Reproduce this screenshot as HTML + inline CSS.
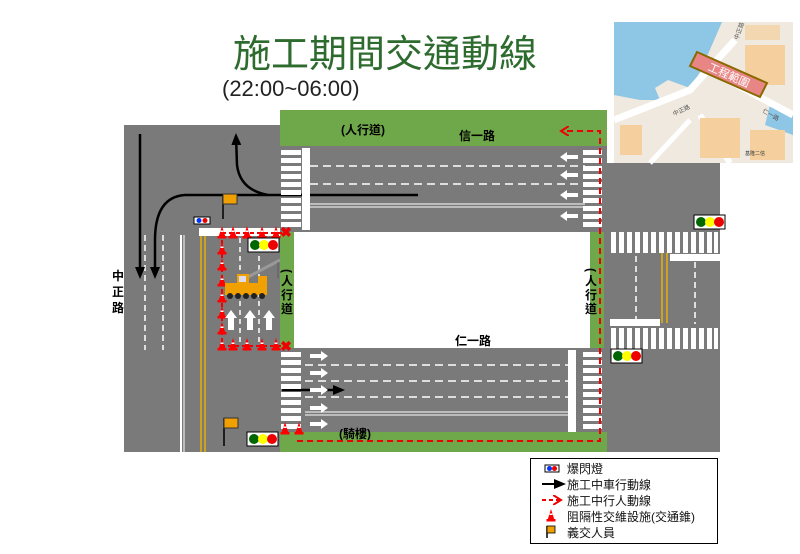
<!DOCTYPE html>
<html><head><meta charset="utf-8"><style>
body{margin:0;background:#fff;}
svg{display:block;font-family:"Liberation Sans","Noto Sans CJK TC",sans-serif;}
</style></head><body>
<svg width="800" height="554" viewBox="0 0 800 554" xmlns="http://www.w3.org/2000/svg">
<defs>
<marker id="ab" markerWidth="12" markerHeight="10" refX="9" refY="5" orient="auto" markerUnits="userSpaceOnUse"><path d="M0,0 L12,5 L0,10z" fill="#000"/></marker>
<marker id="ar" markerWidth="10" markerHeight="10" refX="7" refY="5" orient="auto" markerUnits="userSpaceOnUse"><path d="M0,0 L8,5 L0,10" fill="none" stroke="#e00" stroke-width="2"/></marker>
<g id="cone"><path d="M-3.5,5 L0,-6 L3.5,5z" fill="#f00"/><rect x="-4.5" y="4" width="9" height="2.5" fill="#f00"/><rect x="-1.5" y="-1.5" width="3" height="1.5" fill="#fff"/></g>
<g id="tl"><rect x="0" y="0" width="31" height="14" fill="#fff" stroke="#000"/><circle cx="7" cy="7" r="5" fill="#060"/><circle cx="16" cy="7" r="5" fill="#ff0"/><circle cx="25" cy="7" r="5" fill="#e00"/></g>
<g id="ra"><path d="M0,-2 L11,-2 L11,-5 L18,0 L11,5 L11,2 L0,2z" fill="#fff"/></g>
</defs>
<text x="385" y="67" font-size="38" fill="#2e6b2e" text-anchor="middle">施工期間交通動線</text>
<text x="222" y="96" font-size="22" fill="#222">(22:00~06:00)</text>

<!-- roads -->
<rect x="124" y="125" width="156" height="327" fill="#7a7a7a"/>
<rect x="280" y="146" width="327" height="86" fill="#7a7a7a"/>
<rect x="280" y="348" width="327" height="86" fill="#7a7a7a"/>
<rect x="604" y="163" width="116" height="289" fill="#7a7a7a"/>
<rect x="280" y="110" width="327" height="36" fill="#6fa84a"/>
<rect x="280" y="432" width="327" height="20" fill="#6fa84a"/>
<rect x="280" y="232" width="14" height="116" fill="#6fa84a"/>
<rect x="590" y="232" width="14" height="116" fill="#6fa84a"/>
<rect x="294" y="232" width="296" height="116" fill="#fff"/>

<!-- map -->
<g>
<rect x="614" y="22" width="179" height="141" fill="#efe9df"/>
<path d="M614,22 L722,22 L712,45 L700,72 L690,88 L668,80 L655,88 L660,100 L640,100 L614,95z" fill="#8ec6e6"/>
<path d="M770,105 L793,112 L793,135 L765,125z" fill="#8ec6e6"/>
<path d="M614,120 L690,90 L735,40" fill="none" stroke="#fff" stroke-width="7"/>
<path d="M700,65 L793,115" fill="none" stroke="#fff" stroke-width="7"/>
<path d="M700,115 L730,163" fill="none" stroke="#fff" stroke-width="6"/>
<path d="M650,163 L690,120" fill="none" stroke="#fff" stroke-width="5"/>
<rect x="620" y="125" width="22" height="30" fill="#f5cf9e"/>
<rect x="700" y="118" width="40" height="40" fill="#f5cf9e"/>
<rect x="745" y="45" width="40" height="40" fill="#f5cf9e"/>
<rect x="750" y="130" width="35" height="30" fill="#f5cf9e"/>
<rect x="745" y="25" width="35" height="15" fill="#f3d7b0"/>
<path d="M697,52 L767,83 L760,97 L690,66z" fill="#e88585" stroke="#8a6a00" stroke-width="2"/>
<text x="729" y="79" font-size="11" fill="#fff" text-anchor="middle" transform="rotate(24 729 75)">工程範圍</text>
<text x="674" y="116" font-size="6" fill="#555" transform="rotate(-25 674 116)">中正路</text>
<text x="738" y="40" font-size="6" fill="#555" transform="rotate(-70 738 40)">中正路</text>
<text x="762" y="112" font-size="6" fill="#555" transform="rotate(30 762 112)">仁一路</text>
<text x="745" y="155" font-size="5" fill="#333">基隆二信</text>
</g>

<!-- left road markings -->
<line x1="145" y1="235" x2="145" y2="350" stroke="#fff" stroke-width="1.5" stroke-dasharray="6,4"/>
<line x1="163" y1="235" x2="163" y2="350" stroke="#fff" stroke-width="1.5" stroke-dasharray="6,4"/>
<line x1="181" y1="235" x2="181" y2="452" stroke="#fff" stroke-width="2"/>
<line x1="184" y1="235" x2="184" y2="452" stroke="#fff" stroke-width="1"/>
<line x1="201" y1="236" x2="201" y2="452" stroke="#e8b000" stroke-width="1.5"/>
<line x1="205" y1="236" x2="205" y2="452" stroke="#e8b000" stroke-width="1.5"/>
<rect x="199" y="228" width="81" height="8" fill="#fff"/>
<line x1="240" y1="238" x2="240" y2="345" stroke="#fff" stroke-width="1.5" stroke-dasharray="5,4"/>
<line x1="259" y1="238" x2="259" y2="345" stroke="#fff" stroke-width="1.5" stroke-dasharray="5,4"/>
<path d="M222,233 L284,233 M222,233 L222,346 L284,346" fill="none" stroke="#e00" stroke-width="2" stroke-dasharray="4,3"/>
<g>
<use href="#cone" x="222" y="232"/><use href="#cone" x="233" y="232"/><use href="#cone" x="247" y="232"/><use href="#cone" x="262" y="232"/><use href="#cone" x="276" y="232"/>
<use href="#cone" x="222" y="248"/><use href="#cone" x="222" y="264"/><use href="#cone" x="222" y="280"/><use href="#cone" x="222" y="296"/><use href="#cone" x="222" y="312"/><use href="#cone" x="222" y="328"/>
<use href="#cone" x="222" y="344"/><use href="#cone" x="233" y="344"/><use href="#cone" x="247" y="344"/><use href="#cone" x="262" y="344"/><use href="#cone" x="276" y="344"/>
</g>
<use href="#tl" x="248" y="238"/>
<!-- crane -->
<g>
<line x1="248" y1="277" x2="280" y2="260" stroke="#999" stroke-width="3"/>
<line x1="278" y1="262" x2="278" y2="278" stroke="#555" stroke-width="0.8"/>
<rect x="225" y="283" width="42" height="12" fill="#f0a000"/>
<rect x="237" y="274" width="12" height="10" fill="#f0a000"/>
<rect x="258" y="276" width="9" height="8" fill="#f0a000"/>
<rect x="239" y="276" width="7" height="6" fill="#dde"/>
<g fill="#222"><circle cx="230" cy="296" r="3"/><circle cx="238" cy="296" r="3"/><circle cx="246" cy="296" r="3"/><circle cx="254" cy="296" r="3"/><circle cx="262" cy="296" r="3"/></g>
</g>
<g fill="#fff">
<path d="M228,330 L228,318 L225,318 L231,310 L237,318 L234,318 L234,330z"/>
<path d="M247,330 L247,318 L244,318 L250,310 L256,318 L253,318 L253,330z"/>
<path d="M266,330 L266,318 L263,318 L269,310 L275,318 L272,318 L272,330z"/>
</g>
<text x="286" y="237" font-size="14" fill="#e00" text-anchor="middle" font-weight="bold">✖</text>
<text x="286" y="351" font-size="14" fill="#e00" text-anchor="middle" font-weight="bold">✖</text>
<!-- black vehicle arrows -->
<line x1="140" y1="134" x2="140" y2="276" stroke="#000" stroke-width="2.5" marker-end="url(#ab)"/>
<path d="M418,195 L185,195 Q155,197 155,240 L155,276" fill="none" stroke="#000" stroke-width="2.5" marker-end="url(#ab)"/>
<path d="M268,195 Q240,190 237,165 L236,136" fill="none" stroke="#000" stroke-width="2.5" marker-end="url(#ab)"/>
<line x1="282" y1="390" x2="342" y2="390" stroke="#000" stroke-width="2.5" marker-end="url(#ab)"/>
<!-- flags -->
<line x1="223" y1="194" x2="223" y2="219" stroke="#000" stroke-width="1.5"/>
<rect x="223" y="194" width="14" height="10" fill="#f0a000" stroke="#333"/>
<line x1="224" y1="418" x2="224" y2="446" stroke="#000" stroke-width="1.5"/>
<rect x="224" y="418" width="14" height="10" fill="#f0a000" stroke="#333"/>
<rect x="194" y="217" width="16" height="7" fill="#fff" stroke="#000"/><circle cx="199" cy="220.5" r="2.5" fill="#03f"/><circle cx="205" cy="220.5" r="2.5" fill="#e00"/>
<text x="118" y="280" font-size="12" font-weight="bold" text-anchor="middle">中</text>
<text x="118" y="296" font-size="12" font-weight="bold" text-anchor="middle">正</text>
<text x="118" y="312" font-size="12" font-weight="bold" text-anchor="middle">路</text>

<!-- top road -->
<g fill="#fff">
<rect x="281" y="150" width="20" height="5"/><rect x="281" y="158" width="20" height="5"/><rect x="281" y="166" width="20" height="5"/><rect x="281" y="174" width="20" height="5"/><rect x="281" y="182" width="20" height="5"/><rect x="281" y="190" width="20" height="5"/><rect x="281" y="198" width="20" height="5"/><rect x="281" y="206" width="20" height="5"/><rect x="281" y="214" width="20" height="5"/><rect x="281" y="222" width="20" height="5"/>
<rect x="302" y="148" width="8" height="82"/>
<rect x="583" y="150" width="19" height="5"/><rect x="583" y="158" width="19" height="5"/><rect x="583" y="166" width="19" height="5"/><rect x="583" y="174" width="19" height="5"/><rect x="583" y="182" width="19" height="5"/><rect x="583" y="190" width="19" height="5"/><rect x="583" y="198" width="19" height="5"/><rect x="583" y="206" width="19" height="5"/><rect x="583" y="214" width="19" height="5"/><rect x="583" y="222" width="19" height="5"/>
</g>
<line x1="310" y1="166" x2="585" y2="166" stroke="#fff" stroke-width="1.5" stroke-dasharray="8,5"/>
<line x1="310" y1="184" x2="585" y2="184" stroke="#fff" stroke-width="1.5" stroke-dasharray="8,5"/>
<line x1="310" y1="204" x2="585" y2="204" stroke="#fff" stroke-width="1"/>
<line x1="310" y1="207" x2="585" y2="207" stroke="#fff" stroke-width="1"/>
<use href="#ra" transform="translate(578,157) scale(-1,1)"/>
<use href="#ra" transform="translate(578,175) scale(-1,1)"/>
<use href="#ra" transform="translate(578,195) scale(-1,1)"/>
<use href="#ra" transform="translate(578,216) scale(-1,1)"/>
<text x="363" y="134" font-size="12" font-weight="bold" text-anchor="middle">(人行道)</text>
<text x="477" y="140" font-size="12" font-weight="bold" text-anchor="middle">信一路</text>

<!-- bottom road -->
<g fill="#fff">
<rect x="281" y="352" width="20" height="5"/><rect x="281" y="360" width="20" height="5"/><rect x="281" y="368" width="20" height="5"/><rect x="281" y="376" width="20" height="5"/><rect x="281" y="384" width="20" height="5"/><rect x="281" y="392" width="20" height="5"/><rect x="281" y="400" width="20" height="5"/><rect x="281" y="408" width="20" height="5"/><rect x="281" y="416" width="20" height="5"/><rect x="281" y="424" width="20" height="5"/>
<rect x="568" y="350" width="8" height="82"/>
<rect x="583" y="352" width="19" height="5"/><rect x="583" y="360" width="19" height="5"/><rect x="583" y="368" width="19" height="5"/><rect x="583" y="376" width="19" height="5"/><rect x="583" y="384" width="19" height="5"/><rect x="583" y="392" width="19" height="5"/><rect x="583" y="400" width="19" height="5"/><rect x="583" y="408" width="19" height="5"/><rect x="583" y="416" width="19" height="5"/><rect x="583" y="424" width="19" height="5"/>
</g>
<line x1="305" y1="365" x2="568" y2="365" stroke="#fff" stroke-width="1.5" stroke-dasharray="8,5"/>
<line x1="305" y1="381" x2="568" y2="381" stroke="#fff" stroke-width="1.5" stroke-dasharray="8,5"/>
<line x1="305" y1="397" x2="568" y2="397" stroke="#fff" stroke-width="1.5" stroke-dasharray="8,5"/>
<line x1="305" y1="412" x2="568" y2="412" stroke="#fff" stroke-width="1"/>
<line x1="305" y1="415" x2="568" y2="415" stroke="#fff" stroke-width="1"/>
<use href="#ra" x="310" y="356"/><use href="#ra" x="310" y="373"/><use href="#ra" x="310" y="408"/><use href="#ra" x="310" y="424"/><use href="#ra" x="310" y="390"/>
<text x="473" y="345" font-size="12" font-weight="bold" text-anchor="middle">仁一路</text>
<text x="355" y="438" font-size="12" font-weight="bold" text-anchor="middle">(騎樓)</text>
<use href="#cone" x="285" y="428"/><use href="#cone" x="299" y="428"/>
<use href="#tl" x="247" y="432"/>
<!-- vertical sidewalk labels -->
<g font-size="12" font-weight="bold" text-anchor="middle">
<text x="287" y="275" transform="rotate(90 287 271)">(</text>
<text x="287" y="285">人</text><text x="287" y="299">行</text><text x="287" y="313">道</text>
<text x="591" y="274" transform="rotate(90 591 270)">(</text>
<text x="591" y="285">人</text><text x="591" y="299">行</text><text x="591" y="313">道</text>
</g>
<!-- red pedestrian route -->
<path d="M297,441 L600,441 L600,131 L562,131" fill="none" stroke="#e00" stroke-width="2" stroke-dasharray="6,4" marker-end="url(#ar)"/>

<!-- right road -->
<g fill="#fff">
<rect x="611" y="232" width="5" height="21"/><rect x="619" y="232" width="5" height="21"/><rect x="627" y="232" width="5" height="21"/><rect x="635" y="232" width="5" height="21"/><rect x="643" y="232" width="5" height="21"/><rect x="651" y="232" width="5" height="21"/><rect x="659" y="232" width="5" height="21"/><rect x="667" y="232" width="5" height="21"/><rect x="675" y="232" width="5" height="21"/><rect x="683" y="232" width="5" height="21"/><rect x="691" y="232" width="5" height="21"/><rect x="699" y="232" width="5" height="21"/><rect x="707" y="232" width="5" height="21"/><rect x="714" y="232" width="4" height="21"/>
<rect x="611" y="328" width="5" height="21"/><rect x="619" y="328" width="5" height="21"/><rect x="627" y="328" width="5" height="21"/><rect x="635" y="328" width="5" height="21"/><rect x="643" y="328" width="5" height="21"/><rect x="651" y="328" width="5" height="21"/><rect x="659" y="328" width="5" height="21"/><rect x="667" y="328" width="5" height="21"/><rect x="675" y="328" width="5" height="21"/><rect x="683" y="328" width="5" height="21"/><rect x="691" y="328" width="5" height="21"/><rect x="699" y="328" width="5" height="21"/><rect x="707" y="328" width="5" height="21"/><rect x="714" y="328" width="4" height="21"/>
<rect x="670" y="254" width="50" height="7"/>
<rect x="610" y="319" width="50" height="7"/>
</g>
<line x1="636" y1="256" x2="636" y2="320" stroke="#fff" stroke-width="1.5" stroke-dasharray="6,4"/>
<line x1="695" y1="262" x2="695" y2="324" stroke="#fff" stroke-width="1.5" stroke-dasharray="6,4"/>
<line x1="662" y1="253" x2="662" y2="323" stroke="#e8b000" stroke-width="1.5"/>
<line x1="667" y1="253" x2="667" y2="323" stroke="#e8b000" stroke-width="1.5"/>
<use href="#tl" x="694" y="215"/>
<use href="#tl" x="611" y="349"/>

<!-- legend -->
<rect x="530.5" y="458.5" width="187" height="85" fill="#fff" stroke="#000"/>
<rect x="545" y="465" width="14" height="7" fill="#fff" stroke="#000"/><circle cx="549.5" cy="468.5" r="2.5" fill="#03f"/><circle cx="554.5" cy="468.5" r="2.5" fill="#e00"/>
<line x1="542" y1="484" x2="563" y2="484" stroke="#000" stroke-width="2" marker-end="url(#ab)"/>
<line x1="542" y1="500" x2="560" y2="500" stroke="#e00" stroke-width="2" stroke-dasharray="4,3" marker-end="url(#ar)"/>
<use href="#cone" x="551" y="515"/>
<line x1="547" y1="526" x2="547" y2="538" stroke="#000" stroke-width="1.5"/><rect x="547" y="526" width="8" height="7" fill="#f0a000" stroke="#000" stroke-width="0.8"/>
<g font-size="12" fill="#111">
<text x="567" y="473">爆閃燈</text>
<text x="567" y="489">施工中車行動線</text>
<text x="567" y="505">施工中行人動線</text>
<text x="567" y="521">阻隔性交維設施(交通錐)</text>
<text x="567" y="537">義交人員</text>
</g>
</svg>
</body></html>
